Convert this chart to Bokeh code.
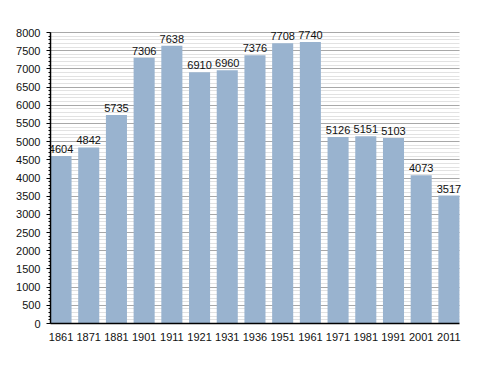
from bokeh.plotting import figure
from bokeh.models import ColumnDataSource, Range1d, FixedTicker, SingleIntervalTicker, LabelSet
from bokeh.core.properties import value
from bokeh.embed import file_html
from bokeh.resources import INLINE

years = ["1861", "1871", "1881", "1901", "1911", "1921", "1931", "1936",
         "1951", "1961", "1971", "1981", "1991", "2001", "2011"]
population = [4604, 4842, 5735, 7306, 7638, 6910, 6960, 7376,
              7708, 7740, 5126, 5151, 5103, 4073, 3517]
y_max = 8000

idx = list(range(len(years)))
src = ColumnDataSource(dict(x=idx, y=population, label=[str(v) for v in population]))

FONT = "Liberation Sans"
x_lo, x_hi = -0.38, len(years) - 1 + 0.38

p = figure(width=480, height=360, output_backend="svg", toolbar_location=None,
           x_range=Range1d(x_lo, x_hi + 0.58), y_range=Range1d(0, y_max * 1.055),
           min_border_left=50, min_border_right=5, min_border_top=16, min_border_bottom=37)
p.outline_line_color = None
p.background_fill_color = "white"

p.vbar(x="x", top="y", width=0.76, source=src, color="#99b3cf", line_color=None)
labels = LabelSet(x="x", y="y", text="label", source=src, text_align="center",
                  text_baseline="bottom", y_offset=3, text_font=value(FONT),
                  text_font_size=value("11px"), text_color=value("#111111"))
p.add_layout(labels)

# x axis
p.xaxis.bounds = (x_lo, x_hi)
p.xaxis.ticker = FixedTicker(ticks=idx)
p.xaxis.major_label_overrides = {i: y for i, y in zip(idx, years)}
p.xaxis.major_tick_line_color = None
p.xaxis.minor_tick_line_color = None
p.xaxis.major_label_standoff = 3
p.xaxis.axis_line_color = "black"
p.xaxis.axis_line_width = 1.5
p.xaxis.major_label_text_font = FONT
p.xaxis.major_label_text_font_size = "11px"
p.xaxis.major_label_text_color = "#111111"
p.xgrid.grid_line_color = None

# y axis
p.yaxis.bounds = (0, y_max)
p.yaxis.ticker = SingleIntervalTicker(interval=500, num_minor_ticks=5)
p.yaxis.axis_line_color = "black"
p.yaxis.axis_line_width = 1.5
p.yaxis.major_tick_in = 0
p.yaxis.major_tick_out = 4
p.yaxis.minor_tick_in = 0
p.yaxis.minor_tick_out = 2
p.yaxis.major_tick_line_color = "black"
p.yaxis.minor_tick_line_color = "black"
p.yaxis.major_label_standoff = 6
p.yaxis.major_label_text_font = FONT
p.yaxis.major_label_text_font_size = "11px"
p.yaxis.major_label_text_color = "#111111"
p.ygrid.grid_line_color = "#a8a8a8"
p.ygrid.minor_grid_line_color = "#e2e2e2"
for g in p.ygrid:
    if hasattr(g, "cross_bounds"):
        g.cross_bounds = (x_lo, x_hi)

open("out.html", "w").write(file_html(p, INLINE))
